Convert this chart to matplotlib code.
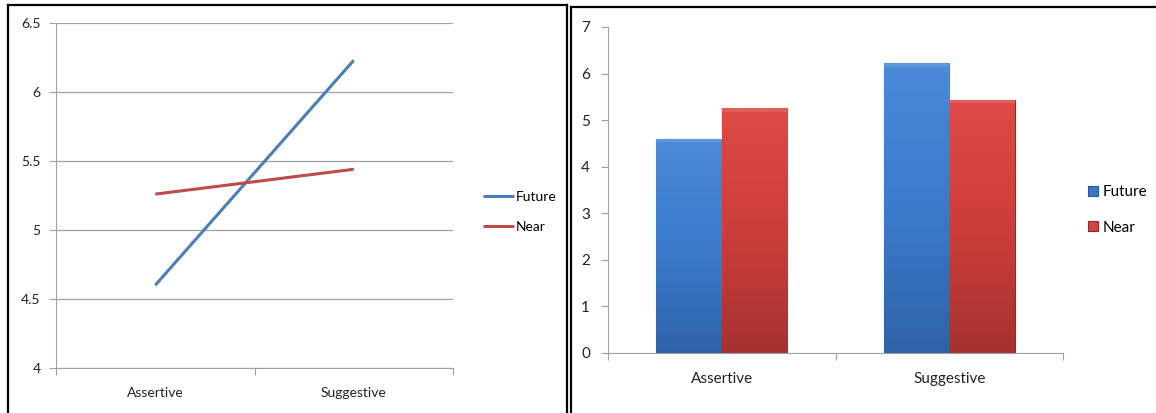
import numpy as np
import matplotlib
matplotlib.use("Agg")
import matplotlib.pyplot as plt
from matplotlib.lines import Line2D
from matplotlib.colors import LinearSegmentedColormap

categories = ["Assertive", "Suggestive"]
future = [4.60, 6.23]
near = [5.26, 5.44]
series_names = ["Future", "Near"]
line_ticks = [4, 4.5, 5, 5.5, 6, 6.5]
line_ticklabels = ["4", "4.5", "5", "5.5", "6", "6.5"]
bar_ticks = [0, 1, 2, 3, 4, 5, 6, 7]

plt.rcParams['font.family'] = ['Lato', 'DejaVu Sans']

W, H = 1156, 413
fig = plt.figure(figsize=(W / 100, H / 100), dpi=100)

def fx(px):
    return px / W

def fy(py):
    return 1 - py / H

blue = "#4A7EBB"
red = "#BE4B48"
axis_grey = "#A0A0A0"
text_col = "#222222"

# ---------- left panel: line chart ----------
ax1 = fig.add_axes([fx(56), fy(368), fx(453) - fx(56), fy(23) - fy(368)])
xs = np.arange(len(categories)) + 0.5
ax1.plot(xs, future, color=blue, lw=2.2, label=series_names[0], solid_capstyle='butt')
ax1.plot(xs, near, color=red, lw=2.2, label=series_names[1], solid_capstyle='butt')
ax1.set_xlim(0, len(categories))
ax1.set_ylim(4, 6.5)
ax1.set_yticks(line_ticks)
ax1.set_yticklabels(line_ticklabels)
ax1.set_xticks([0, 1, 2])
ax1.set_xticklabels([])
ax1.set_xticks(xs, minor=True)
ax1.set_xticklabels(categories, minor=True)
ax1.tick_params(axis='x', which='minor', length=0, pad=14, labelsize=10, labelcolor=text_col)
ax1.tick_params(axis='x', which='major', length=5, color=axis_grey, direction='out')
ax1.tick_params(axis='y', length=5, color=axis_grey, labelsize=10, labelcolor=text_col, pad=6)
ax1.grid(axis='y', color=axis_grey, lw=0.9)
ax1.set_axisbelow(True)
for s in ['top', 'right']:
    ax1.spines[s].set_visible(False)
ax1.spines['left'].set_color(axis_grey)
ax1.spines['bottom'].set_color(axis_grey)
ax1.legend(loc='center left', bbox_to_anchor=(fx(470), fy(212)), bbox_transform=fig.transFigure,
           frameon=False, handlelength=2.3, handletextpad=0.1, labelspacing=1.3, fontsize=10)

# ---------- right panel: bar chart ----------
ax2 = fig.add_axes([fx(608), fy(353), fx(1063) - fx(608), fy(27) - fy(353)])
bw = 0.288
x = np.arange(len(categories)) + 0.5
bars_f = ax2.bar(x - bw / 2, future, bw, color="#3B78C8", edgecolor="#2A5590", lw=0.8, label=series_names[0])
bars_n = ax2.bar(x + bw / 2, near, bw, color="#D24440", edgecolor="#8E2A28", lw=0.8, label=series_names[1])

# vertical gradient inside each bar
grad = np.linspace(0, 1, 256).reshape(-1, 1)
cmaps = {
    "f": LinearSegmentedColormap.from_list("f", ["#2E63A8", "#3C7BCC", "#4A8AD8"]),
    "n": LinearSegmentedColormap.from_list("n", ["#A53230", "#CC3E3B", "#DE4A46"]),
}
for key, bars in (("f", bars_f), ("n", bars_n)):
    for b in bars:
        x0, y0 = b.get_x(), b.get_y()
        w, h = b.get_width(), b.get_height()
        im = ax2.imshow(grad, extent=[x0, x0 + w, y0, y0 + h], origin='lower',
                        cmap=cmaps[key], aspect='auto', zorder=b.get_zorder())
        im.set_clip_path(b)
        ax2.add_patch(plt.Rectangle((x0, y0 + h - 0.08), w, 0.08, facecolor='white', alpha=0.12,
                                    edgecolor='none', zorder=b.get_zorder() + 0.1, clip_path=b))
ax2.set_xlim(0, len(categories))
ax2.set_ylim(0, 7)
ax2.set_yticks(bar_ticks)
ax2.set_xticks([0, 1, 2])
ax2.set_xticklabels([])
ax2.set_xticks(x, minor=True)
ax2.set_xticklabels(categories, minor=True)
ax2.tick_params(axis='x', which='minor', length=0, pad=14, labelsize=11, labelcolor=text_col)
ax2.tick_params(axis='x', which='major', length=5, color=axis_grey, direction='out')
ax2.tick_params(axis='y', length=5, color=axis_grey, labelsize=11, labelcolor=text_col, pad=8)
for s in ['top', 'right']:
    ax2.spines[s].set_visible(False)
ax2.spines['left'].set_color(axis_grey)
ax2.spines['bottom'].set_color(axis_grey)
ax2.legend(loc='center left', bbox_to_anchor=(fx(1074), fy(210)), bbox_transform=fig.transFigure,
           frameon=False, handlelength=0.65, handleheight=0.65, handletextpad=0.3, labelspacing=1.4, fontsize=11)

# panel borders
border = dict(color='black', lw=1.6, transform=fig.transFigure)
fig.add_artist(Line2D([fx(8), fx(8)], [fy(5), 0], **border))
fig.add_artist(Line2D([fx(8), fx(567)], [fy(5), fy(5)], **border))
fig.add_artist(Line2D([fx(567), fx(567)], [fy(5), 0], **border))
fig.add_artist(Line2D([fx(571), fx(571)], [fy(7), 0], **border))
fig.add_artist(Line2D([fx(571), 1], [fy(7), fy(7)], **border))

fig.savefig("out.png", dpi=100)
